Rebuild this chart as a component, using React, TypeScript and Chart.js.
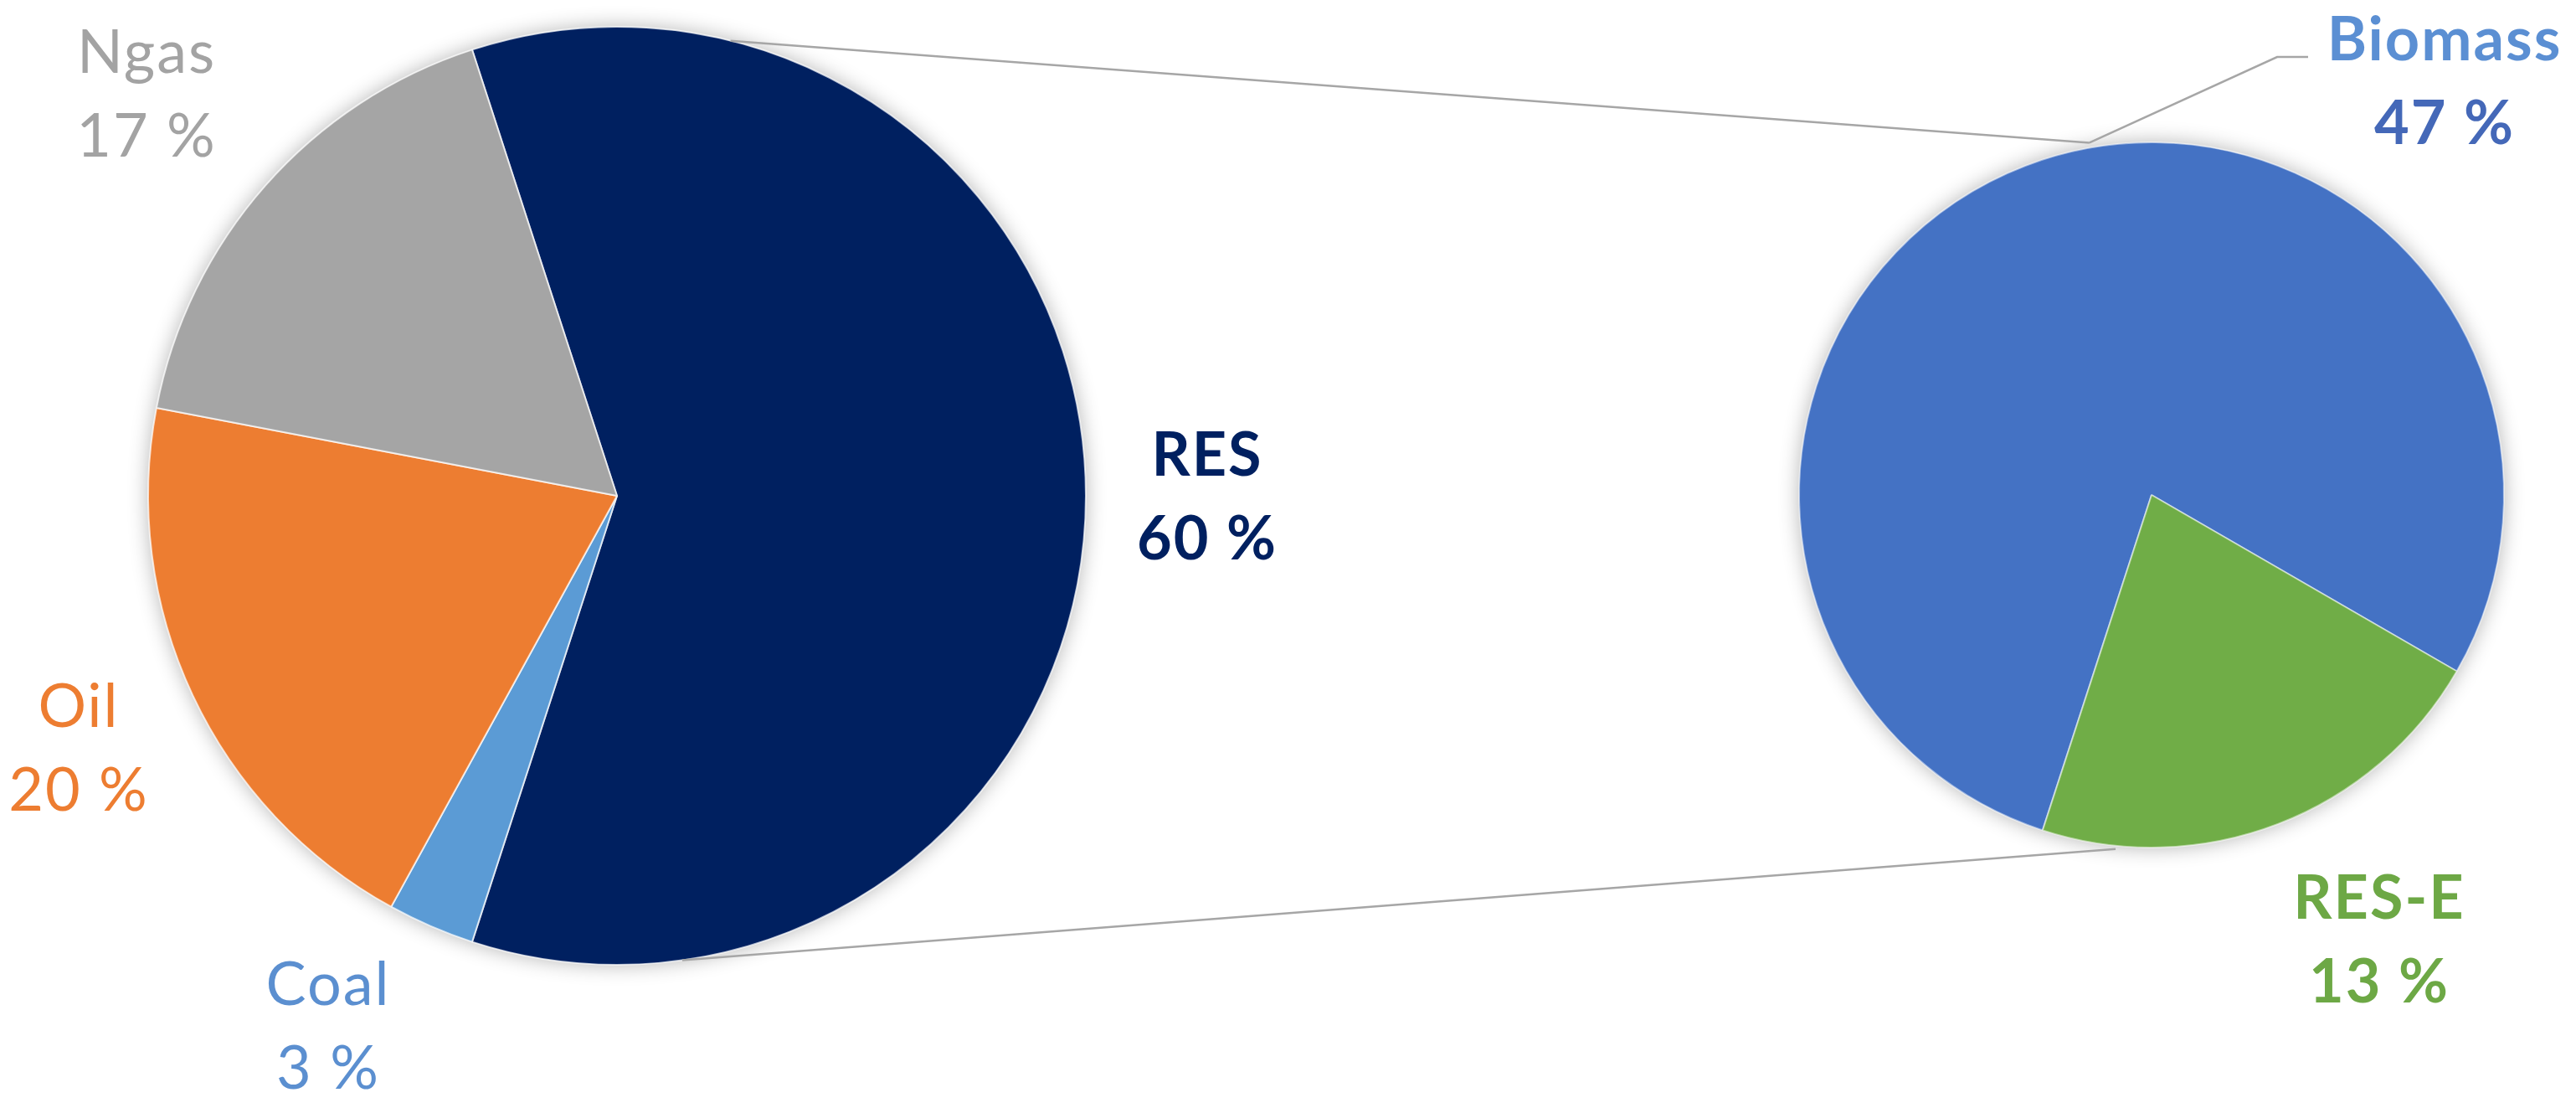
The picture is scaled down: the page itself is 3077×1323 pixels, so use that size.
import { useEffect, useRef } from "react";
import { Chart, registerables } from "chart.js";

Chart.register(...registerables);

// ---- data ----
const mainLabels = ["RES", "Coal", "Oil", "Ngas"];
const mainValues = [60, 3, 20, 17];
const mainColors = ["#002060", "#5B9BD5", "#ED7D31", "#A5A5A5"];
const mainTextColors = ["#002060", "#5B8FD0", "#ED7D31", "#A3A3A3"];
const mainBold = [true, false, false, false];

const subLabels = ["Biomass", "RES-E"];
const subValues = [47, 13];
const subColors = ["#4472C4", "#70AD47"];
const subNameColors = ["#5B8FD3", "#6DA845"];
const subValueColors = ["#4468B8", "#6DA845"];
const subBold = [true, true];

// ---- layout (not data) ----
const W = 3077;
const H = 1323;
const FONT = "Lato, 'Open Sans', 'DejaVu Sans', sans-serif";
const FONT_SIZE = 72;
const LINE_GAP = 100;
const mainLabelPos = [
  [1442, 568],
  [392, 1200],
  [94, 868],
  [175, 87],
];
const subLabelPos = [
  [2920, 72],
  [2842, 1097],
];

function arcGeom(chart: any) {
  const arc = chart.getDatasetMeta(0).data[0];
  const p = arc.getProps(["x", "y", "outerRadius"], true);
  return p as { x: number; y: number; outerRadius: number };
}

function polar(g: { x: number; y: number; outerRadius: number }, deg: number, extra = 0) {
  const a = (deg * Math.PI) / 180;
  const r = g.outerRadius + extra;
  return [g.x + r * Math.sin(a), g.y - r * Math.cos(a)];
}

function drawLabel(
  ctx: CanvasRenderingContext2D,
  x: number,
  y: number,
  name: string,
  value: number,
  nameColor: string,
  valueColor: string,
  bold: boolean
) {
  ctx.save();
  ctx.font = `${bold ? "bold " : ""}${FONT_SIZE}px ${FONT}`;
  try {
    (ctx as any).letterSpacing = "2px";
  } catch (e) {
    /* ignore */
  }
  ctx.textAlign = "center";
  ctx.textBaseline = "alphabetic";
  ctx.fillStyle = nameColor;
  ctx.fillText(name, x, y);
  ctx.fillStyle = valueColor;
  ctx.fillText(`${value} %`, x, y + LINE_GAP);
  ctx.restore();
}

const shadowPlugin = {
  id: "pieShadow",
  beforeDatasetsDraw(chart: any) {
    const g = arcGeom(chart);
    const ctx = chart.ctx as CanvasRenderingContext2D;
    ctx.save();
    ctx.shadowColor = "rgba(0,0,0,0.30)";
    ctx.shadowBlur = 24;
    ctx.fillStyle = "#ffffff";
    ctx.beginPath();
    ctx.arc(g.x, g.y, g.outerRadius, 0, Math.PI * 2);
    ctx.fill();
    ctx.restore();
  },
};

export default function App() {
  const leftRef = useRef<HTMLCanvasElement>(null);
  const rightRef = useRef<HTMLCanvasElement>(null);

  useEffect(() => {
    if (!leftRef.current || !rightRef.current) return;

    const mainLabelPlugin = {
      id: "mainLabels",
      afterDatasetsDraw(chart: any) {
        const ctx = chart.ctx as CanvasRenderingContext2D;
        mainLabels.forEach((l, i) => {
          drawLabel(
            ctx,
            mainLabelPos[i][0],
            mainLabelPos[i][1],
            l,
            mainValues[i],
            mainTextColors[i],
            mainTextColors[i],
            mainBold[i]
          );
        });
      },
    };

    const bw = 2;
    const left = new Chart(leftRef.current, {
      type: "pie",
      data: {
        labels: mainLabels,
        datasets: [
          {
            data: mainValues,
            backgroundColor: mainColors,
            borderColor: "rgba(255,255,255,0.7)",
            borderWidth: bw,
          },
        ],
      },
      options: {
        responsive: false,
        animation: false,
        rotation: -18,
        layout: {
          padding: { left: 176, top: 31, right: W - (176 + 1122), bottom: H - (31 + 1122) },
        },
        plugins: {
          legend: { display: false },
          tooltip: { enabled: false },
          title: { display: false },
        },
      },
      plugins: [shadowPlugin, mainLabelPlugin],
    });

    const connectorPlugin = {
      id: "connectors",
      afterDatasetsDraw(chart: any) {
        const ctx = chart.ctx as CanvasRenderingContext2D;
        const lg = arcGeom(left);
        const rg = arcGeom(chart);
        const t0 = polar(lg, 14, 0);
        const t1 = polar(rg, -10, 6);
        const b0 = polar(lg, 172, 0);
        const b1 = polar(rg, 185.8, 4);
        ctx.save();
        ctx.strokeStyle = "#A6A6A6";
        ctx.lineWidth = 2.5;
        ctx.beginPath();
        ctx.moveTo(t0[0], t0[1]);
        ctx.lineTo(t1[0], t1[1]);
        ctx.moveTo(b0[0], b0[1]);
        ctx.lineTo(b1[0], b1[1]);
        // leader line for Biomass label
        ctx.moveTo(t1[0], t1[1]);
        ctx.lineTo(subLabelPos[0][0] - 200, subLabelPos[0][1] - 4);
        ctx.lineTo(subLabelPos[0][0] - 163, subLabelPos[0][1] - 4);
        ctx.stroke();
        ctx.restore();

        subLabels.forEach((l, i) => {
          drawLabel(
            ctx,
            subLabelPos[i][0],
            subLabelPos[i][1],
            l,
            subValues[i],
            subNameColors[i],
            subValueColors[i],
            subBold[i]
          );
        });
      },
    };

    const right = new Chart(rightRef.current, {
      type: "pie",
      data: {
        labels: subLabels,
        datasets: [
          {
            data: subValues,
            backgroundColor: subColors,
            borderColor: "rgba(255,255,255,0.5)",
            borderWidth: bw,
          },
        ],
      },
      options: {
        responsive: false,
        animation: false,
        rotation: 198,
        layout: {
          padding: { left: 2148, top: 169, right: W - (2148 + 844), bottom: H - (169 + 844) },
        },
        plugins: {
          legend: { display: false },
          tooltip: { enabled: false },
          title: { display: false },
        },
      },
      plugins: [shadowPlugin, connectorPlugin],
    });

    return () => {
      right.destroy();
      left.destroy();
    };
  }, []);

  return (
    <div
      style={{
        position: "absolute",
        left: 0,
        top: 0,
        width: W,
        height: H,
        background: "#ffffff",
        overflow: "hidden",
      }}
    >
      <canvas
        ref={leftRef}
        width={W}
        height={H}
        style={{ position: "absolute", left: 0, top: 0, width: W, height: H }}
      />
      <canvas
        ref={rightRef}
        width={W}
        height={H}
        style={{ position: "absolute", left: 0, top: 0, width: W, height: H }}
      />
    </div>
  );
}
